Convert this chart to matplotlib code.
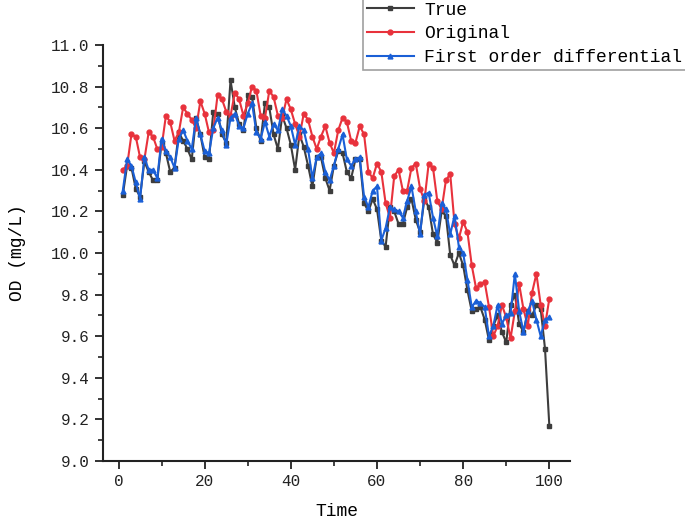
import matplotlib.pyplot as plt
from matplotlib.ticker import MultipleLocator

# Time steps and series
time = list(range(1, 101))

true_od = [10.28, 10.42, 10.41, 10.31, 10.27, 10.44, 10.39, 10.35, 10.35, 10.53,
           10.48, 10.39, 10.41, 10.58, 10.54, 10.50, 10.45, 10.65, 10.57, 10.46,
           10.45, 10.68, 10.67, 10.57, 10.53, 10.83, 10.70, 10.62, 10.59, 10.76,
           10.75, 10.60, 10.54, 10.72, 10.70, 10.57, 10.50, 10.66, 10.60, 10.52,
           10.40, 10.57, 10.51, 10.42, 10.32, 10.46, 10.46, 10.36, 10.30, 10.42,
           10.49, 10.48, 10.39, 10.36, 10.45, 10.45, 10.24, 10.20, 10.26, 10.21,
           10.06, 10.03, 10.22, 10.20, 10.14, 10.14, 10.22, 10.26, 10.16, 10.10,
           10.26, 10.22, 10.09, 10.05, 10.20, 10.18, 9.99, 9.94, 10.00, 9.94,
           9.82, 9.72, 9.73, 9.74, 9.68, 9.58, 9.65, 9.70, 9.62, 9.57,
           9.75, 9.80, 9.66, 9.62, 9.72, 9.70, 9.75, 9.73, 9.54, 9.17]

original = [10.40, 10.42, 10.57, 10.56, 10.46, 10.45, 10.58, 10.56, 10.50, 10.51,
            10.66, 10.63, 10.54, 10.58, 10.70, 10.67, 10.64, 10.60, 10.73, 10.67,
            10.58, 10.59, 10.76, 10.74, 10.68, 10.66, 10.77, 10.74, 10.66, 10.72,
            10.80, 10.78, 10.66, 10.65, 10.78, 10.75, 10.66, 10.65, 10.74, 10.69,
            10.62, 10.56, 10.67, 10.64, 10.56, 10.50, 10.56, 10.61, 10.53, 10.48,
            10.59, 10.65, 10.63, 10.54, 10.53, 10.61, 10.57, 10.39, 10.36, 10.43,
            10.39, 10.24, 10.17, 10.37, 10.40, 10.30, 10.30, 10.41, 10.43, 10.31,
            10.25, 10.43, 10.41, 10.25, 10.21, 10.35, 10.38, 10.14, 10.07, 10.15,
            10.10, 9.94, 9.83, 9.85, 9.86, 9.74, 9.60, 9.65, 9.75, 9.69,
            9.59, 9.72, 9.85, 9.73, 9.65, 9.81, 9.90, 9.75, 9.65, 9.78]

first_diff = [10.30, 10.45, 10.42, 10.34, 10.26, 10.46, 10.40, 10.40, 10.36, 10.55,
              10.49, 10.46, 10.41, 10.55, 10.59, 10.54, 10.50, 10.65, 10.57, 10.49,
              10.48, 10.60, 10.65, 10.59, 10.52, 10.65, 10.67, 10.61, 10.60, 10.67,
              10.72, 10.58, 10.55, 10.63, 10.56, 10.62, 10.59, 10.69, 10.66, 10.61,
              10.52, 10.61, 10.59, 10.50, 10.36, 10.46, 10.48, 10.39, 10.35, 10.42,
              10.50, 10.57, 10.45, 10.42, 10.45, 10.46, 10.27, 10.22, 10.30, 10.32,
              10.06, 10.12, 10.22, 10.21, 10.20, 10.17, 10.25, 10.32, 10.20, 10.09,
              10.28, 10.29, 10.17, 10.08, 10.24, 10.21, 10.09, 10.18, 10.03, 10.00,
              9.87, 9.74, 9.77, 9.76, 9.74, 9.60, 9.65, 9.75, 9.66, 9.70,
              9.71, 9.90, 9.72, 9.62, 9.72, 9.77, 9.68, 9.60, 9.68, 9.69]

plt.rcParams["font.family"] = "Liberation Mono"

fig = plt.figure(figsize=(6.85, 5.2), dpi=100)
ax = fig.add_axes([103 / 685, 1 - 461 / 520, 467 / 685, 416 / 520])

ax.plot(time, true_od, "-s", color="#3d3d3d", lw=1.5, ms=3.5, label="True")
ax.plot(time, original, "-o", color="#e8323c", lw=1.5, ms=3.5, label="Original")
ax.plot(time, first_diff, "-^", color="#1a5fd6", lw=1.5, ms=3.5,
        label="First order differential")

ax.set_xlim(-3.6, 104.8)
ax.set_ylim(9.0, 11.0)
ax.xaxis.set_major_locator(MultipleLocator(20))
ax.xaxis.set_minor_locator(MultipleLocator(10))
ax.yaxis.set_major_locator(MultipleLocator(0.2))
ax.yaxis.set_minor_locator(MultipleLocator(0.1))
ax.yaxis.set_major_formatter(plt.FuncFormatter(lambda v, p: f"{v:.1f}"))

for side in ("top", "right"):
    ax.spines[side].set_visible(False)
for side in ("left", "bottom"):
    ax.spines[side].set_linewidth(1.5)
    ax.spines[side].set_color("#222222")
ax.tick_params(which="major", direction="out", length=6, width=1.3, labelsize=11.5,
               colors="#222222")
ax.tick_params(which="minor", direction="out", length=3.5, width=1.2, colors="#222222")

ax.set_xlabel("Time", fontsize=13, labelpad=10)
ax.set_ylabel("OD (mg/L)", fontsize=13, labelpad=18)

leg = ax.legend(loc="upper left", bbox_to_anchor=(363 / 685, 1.004),
                bbox_transform=fig.transFigure, fontsize=13, frameon=True,
                fancybox=False, borderpad=0.2, labelspacing=0.38,
                handlelength=2.6, handletextpad=0.6, borderaxespad=0)
leg.get_frame().set_edgecolor("#888888")
leg.get_frame().set_linewidth(1.2)

fig.savefig("out.png", dpi=100)
